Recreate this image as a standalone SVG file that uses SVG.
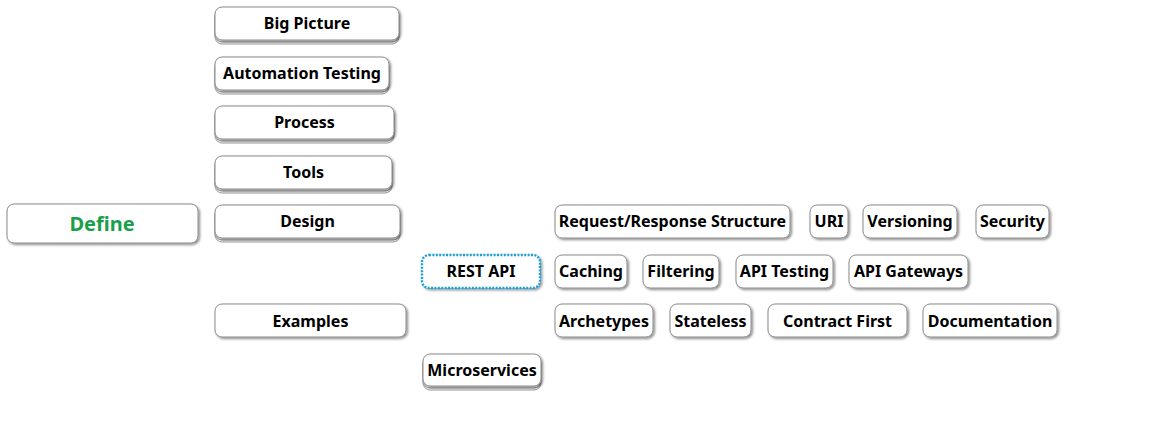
<svg xmlns="http://www.w3.org/2000/svg" width="1168" height="431" viewBox="0 0 1168 431">
<defs>
<filter id="sh" x="-10%" y="-20%" width="130%" height="160%">
<feDropShadow dx="1.5" dy="1.5" stdDeviation="1" flood-color="#000" flood-opacity="0.45"/>
</filter>
</defs>
<style>
.box{fill:#fff;stroke:#8a8a8a;stroke-width:1;filter:url(#sh)}
.stk{fill:#fff;stroke:#9a9a9a;stroke-width:1}
.sel{fill:#fff;stroke:#1aa0d8;stroke-width:2.4;stroke-dasharray:2 1.4;filter:url(#sh)}
.t{font-family:"Noto Sans","Open Sans",sans-serif;font-weight:bold;font-size:16px;fill:#000;text-anchor:middle}
.root{font-family:"Noto Sans","Open Sans",sans-serif;font-weight:bold;font-size:20px;fill:#1a9f4a;text-anchor:middle}
</style>
<rect width="1168" height="431" fill="#fff"/>
<g id="connectors"></g>
<g id="n-define"><rect class="box" x="7" y="204" width="191" height="39" rx="7"/><text class="root" x="102" y="231">Define</text></g>
<g id="n-bigpicture"><rect class="stk" x="215" y="11" width="184" height="33" rx="7"/><rect class="stk" x="215" y="9" width="184" height="33" rx="7"/><rect class="box" x="215" y="7" width="184" height="33" rx="7"/><text class="t" x="307" y="29">Big Picture</text></g>
<g id="n-automation"><rect class="stk" x="215" y="61" width="174" height="33" rx="7"/><rect class="stk" x="215" y="59" width="174" height="33" rx="7"/><rect class="box" x="215" y="57" width="174" height="33" rx="7"/><text class="t" x="302" y="79">Automation Testing</text></g>
<g id="n-process"><rect class="stk" x="215" y="110" width="179" height="33" rx="7"/><rect class="stk" x="215" y="108" width="179" height="33" rx="7"/><rect class="box" x="215" y="106" width="179" height="33" rx="7"/><text class="t" x="304.5" y="128">Process</text></g>
<g id="n-tools"><rect class="stk" x="215" y="160" width="177" height="33" rx="7"/><rect class="stk" x="215" y="158" width="177" height="33" rx="7"/><rect class="box" x="215" y="156" width="177" height="33" rx="7"/><text class="t" x="303.5" y="178">Tools</text></g>
<g id="n-design"><rect class="stk" x="215" y="209" width="185" height="33" rx="7"/><rect class="stk" x="215" y="207" width="185" height="33" rx="7"/><rect class="box" x="215" y="205" width="185" height="33" rx="7"/><text class="t" x="307.5" y="227">Design</text></g>
<g id="n-examples"><rect class="box" x="215" y="304" width="191" height="33" rx="7"/><text class="t" x="310.5" y="327">Examples</text></g>
<g id="n-restapi"><rect class="sel" x="422" y="255" width="118" height="33" rx="7"/><text class="t" x="481" y="277">REST API</text></g>
<g id="n-microservices"><rect class="stk" x="423" y="358" width="118" height="32" rx="7"/><rect class="stk" x="423" y="356" width="118" height="32" rx="7"/><rect class="box" x="423" y="354" width="118" height="32" rx="7"/><text class="t" x="482" y="376">Microservices</text></g>
<g id="n-reqres"><rect class="box" x="555" y="205" width="235" height="33" rx="7"/><text class="t" x="672.5" y="227">Request/Response Structure</text></g>
<g id="n-uri"><rect class="box" x="810" y="205" width="38" height="33" rx="7"/><text class="t" x="829" y="227">URI</text></g>
<g id="n-versioning"><rect class="box" x="863" y="205" width="94" height="33" rx="7"/><text class="t" x="910" y="227">Versioning</text></g>
<g id="n-security"><rect class="box" x="976" y="205" width="73" height="33" rx="7"/><text class="t" x="1012.5" y="227">Security</text></g>
<g id="n-caching"><rect class="box" x="555" y="255" width="72" height="33" rx="7"/><text class="t" x="591" y="277">Caching</text></g>
<g id="n-filtering"><rect class="box" x="643" y="255" width="76" height="33" rx="7"/><text class="t" x="681" y="277">Filtering</text></g>
<g id="n-apitesting"><rect class="box" x="736" y="255" width="97" height="33" rx="7"/><text class="t" x="784.5" y="277">API Testing</text></g>
<g id="n-apigateways"><rect class="box" x="849" y="255" width="119" height="33" rx="7"/><text class="t" x="908.5" y="277">API Gateways</text></g>
<g id="n-archetypes"><rect class="box" x="555" y="304" width="98" height="33" rx="7"/><text class="t" x="604" y="327">Archetypes</text></g>
<g id="n-stateless"><rect class="box" x="670" y="304" width="81" height="33" rx="7"/><text class="t" x="710.5" y="327">Stateless</text></g>
<g id="n-contract"><rect class="box" x="768" y="304" width="139" height="33" rx="7"/><text class="t" x="837.5" y="327">Contract First</text></g>
<g id="n-documentation"><rect class="box" x="923" y="304" width="134" height="33" rx="7"/><text class="t" x="990" y="327">Documentation</text></g>
</svg>
